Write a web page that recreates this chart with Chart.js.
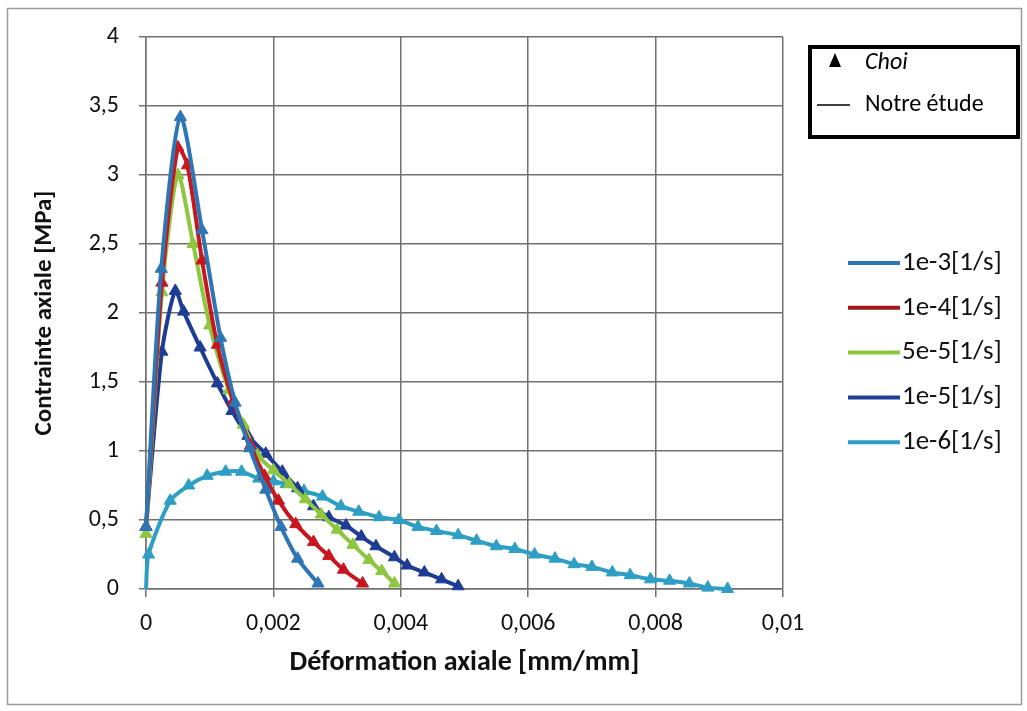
<!DOCTYPE html>
<html>
<head>
<meta charset="utf-8">
<script src="https://cdn.jsdelivr.net/npm/chart.js@4/dist/chart.umd.min.js"></script>
<style>
  html, body { margin: 0; padding: 0; background: #fff; }
  #wrap { width: 1027px; height: 711px; }
</style>
</head>
<body>
<div id="wrap"><canvas id="myChart" width="1027" height="711"></canvas></div>
<script>
// strain values (mm/mm) and stress values (MPa) per strain rate
const labels = ["1e-3[1/s]", "1e-4[1/s]", "5e-5[1/s]", "1e-5[1/s]", "1e-6[1/s]"];

const x1e3 = [0, 0.00024, 0.00054, 0.00088, 0.00117, 0.0014, 0.00163, 0.00188, 0.00212, 0.00238, 0.0027];
const y1e3 = [0.45, 2.32, 3.42, 2.6, 1.82, 1.35, 1.02, 0.72, 0.45, 0.22, 0.04];

const x1e4 = [0, 0.00025, 0.0005, 0.00065, 0.00088, 0.00112, 0.00137, 0.00164, 0.00186, 0.00208, 0.00235, 0.00263, 0.00287, 0.0031, 0.0034];
const y1e4 = [0.45, 2.22, 3.2, 3.07, 2.38, 1.77, 1.36, 1.04, 0.82, 0.64, 0.47, 0.34, 0.24, 0.14, 0.04];

const x5e5 = [0, 0.00025, 0.0005, 0.00074, 0.001, 0.0013, 0.00153, 0.00175, 0.002, 0.00225, 0.0025, 0.00275, 0.003, 0.00325, 0.0035, 0.0037, 0.0039];
const y5e5 = [0.4, 2.15, 3.0, 2.5, 1.91, 1.44, 1.19, 0.97, 0.86, 0.76, 0.65, 0.54, 0.43, 0.32, 0.21, 0.13, 0.04];

const x1e5 = [0, 0.00025, 0.00046, 0.00059, 0.00085, 0.00112, 0.00135, 0.0016, 0.00188, 0.00214, 0.00238, 0.00263, 0.00287, 0.00314, 0.00338, 0.00361, 0.0039, 0.0041, 0.00437, 0.00464, 0.0049];
const y1e5 = [0.45, 1.72, 2.16, 2.01, 1.75, 1.49, 1.29, 1.11, 0.98, 0.85, 0.73, 0.6, 0.52, 0.46, 0.38, 0.31, 0.23, 0.17, 0.12, 0.07, 0.02];

const x1e6 = [0, 0.00004, 0.00038, 0.00067, 0.00096, 0.00125, 0.0015, 0.00177, 0.002, 0.0022, 0.00248, 0.00277, 0.00306, 0.00334, 0.00366, 0.00397, 0.00427, 0.00456, 0.0049, 0.00519, 0.0055, 0.00579, 0.0061, 0.00642, 0.00672, 0.007, 0.00732, 0.0076, 0.00792, 0.00822, 0.00853, 0.00882, 0.00913];
const y1e6 = [0, 0.25, 0.64, 0.75, 0.82, 0.85, 0.85, 0.8, 0.78, 0.76, 0.71, 0.67, 0.6, 0.56, 0.52, 0.5, 0.45, 0.42, 0.39, 0.35, 0.31, 0.29, 0.25, 0.22, 0.18, 0.16, 0.12, 0.1, 0.07, 0.06, 0.04, 0.01, 0.0];

const xTicks = [0, 0.002, 0.004, 0.006, 0.008, 0.01];
const yTicks = [0, 0.5, 1, 1.5, 2, 2.5, 3, 3.5, 4];

const colors = ["#2E75B6", "#C8161E", "#8DC63F", "#1F3C94", "#2E9EC4"];
const legendColors = ["#2E75B6", "#9E1B1B", "#8DC63F", "#1F3C94", "#2E9EC4"];

const xs = [x1e3, x1e4, x5e5, x1e5, x1e6];
const ys = [y1e3, y1e4, y5e5, y1e5, y1e6];

const FONT = "Carlito, Lato, 'Open Sans', sans-serif";
const fmt = v => String(+v.toFixed(4)).replace(".", ",");

const datasets = labels.map((lab, i) => ({
    label: lab,
    data: xs[i].map((x, j) => ({ x: x, y: ys[i][j] })),
    showLine: true,
    borderColor: colors[i],
    backgroundColor: colors[i],
    borderWidth: 4,
    pointStyle: "triangle",
    pointRadius: ctx => (ctx.raw && ctx.raw.x === 0 && ctx.raw.y === 0) ? 0 : 7,
    pointBorderWidth: 1,
    tension: 0.25,
    clip: false
}));

const extras = {
    id: "extras",
    beforeDraw(chart) {
        const c = chart.ctx;
        c.save();
        c.fillStyle = "#fff";
        c.fillRect(0, 0, chart.width, chart.height);
        c.strokeStyle = "#9a9a9a";
        c.lineWidth = 1.5;
        c.strokeRect(7.5, 8.5, 1014, 696);
        c.restore();
    },
    afterDraw(chart) {
        const c = chart.ctx;
        c.save();
        // Choi / Notre étude box
        c.strokeStyle = "#000";
        c.lineWidth = 4;
        c.strokeRect(810, 47, 208, 90);
        c.fillStyle = "#000";
        c.beginPath();
        c.moveTo(835, 53); c.lineTo(841, 67); c.lineTo(829, 67); c.closePath();
        c.fill();
        c.lineWidth = 1.5;
        c.beginPath(); c.moveTo(817, 105); c.lineTo(850, 105); c.stroke();
        c.textBaseline = "middle";
        c.textAlign = "left";
        c.font = "italic 24px " + FONT;
        c.fillText("Choi", 865, 63);
        c.font = "24px " + FONT;
        c.fillText("Notre étude", 865, 105);
        // series legend
        labels.forEach((lab, i) => {
            const y = 263 + i * 44.8;
            c.strokeStyle = legendColors[i];
            c.lineWidth = 4;
            c.beginPath(); c.moveTo(848, y); c.lineTo(900, y); c.stroke();
            c.fillStyle = "#111";
            c.font = "27px " + FONT;
            c.fillText(lab, 902, y);
        });
        c.restore();
    }
};

const ctx = document.getElementById("myChart").getContext("2d");
new Chart(ctx, {
    type: "scatter",
    data: { datasets: datasets },
    plugins: [extras],
    options: {
        responsive: false,
        animation: false,
        layout: { padding: { top: 37, right: 244, bottom: 0, left: 0 } },
        plugins: { legend: { display: false }, tooltip: { enabled: false } },
        scales: {
            x: {
                type: "linear",
                min: 0, max: 0.01,
                afterBuildTicks: s => { s.ticks = xTicks.map(v => ({ value: v })); },
                afterFit: s => { s.height = 122; },
                grid: { color: "#707070", lineWidth: 1.5, tickLength: 8 },
                border: { color: "#707070", width: 1.5 },
                ticks: { padding: 13, color: "#111", font: { family: FONT, size: 24 }, callback: v => fmt(v), maxRotation: 0 },
                title: { display: true, text: "Déformation axiale [mm/mm]", color: "#111", font: { family: FONT, size: 28, weight: "bold" }, padding: { top: 0, bottom: 31 } }
            },
            y: {
                type: "linear",
                min: 0, max: 4,
                afterBuildTicks: s => { s.ticks = yTicks.map(v => ({ value: v })); },
                afterFit: s => { s.width = 146; },
                grid: { color: "#707070", lineWidth: 1.5, tickLength: 7 },
                border: { color: "#707070", width: 1.5 },
                ticks: { padding: 20, color: "#111", font: { family: FONT, size: 24 }, callback: v => fmt(v) },
                title: { display: true, text: "Contrainte axiale [MPa]", color: "#111", font: { family: FONT, size: 25, weight: "bold" }, padding: { top: 30, bottom: 0 } }
            }
        }
    }
});
</script>
</body>
</html>
